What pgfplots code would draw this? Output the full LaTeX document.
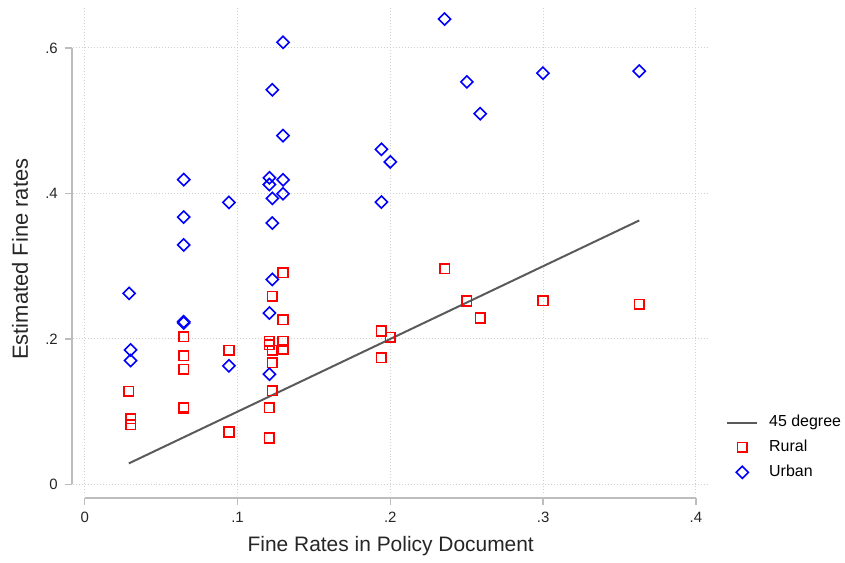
\documentclass[border=0pt]{standalone}
\usepackage{pgfplots}
\pgfplotsset{compat=1.18}
\usepackage{fontspec}
\setmainfont{Liberation Sans}
\definecolor{axgray}{HTML}{BDBDBD}
\definecolor{gridgray}{HTML}{D0D0D0}
\definecolor{linegray}{HTML}{5A5A5A}
\begin{document}
\begin{tikzpicture}
\begin{axis}[
  scale only axis,
  width=318.5pt, height=243.5pt,
  xmin=-0.0078, xmax=0.4077,
  ymin=-0.0123, ymax=0.655,
  axis x line*=bottom, axis y line*=left,
  axis x line shift=2.25pt, axis y line shift=0.5pt,
  x axis line style={draw=axgray, line width=0.8pt, -, shorten <=6pt, shorten >=5.9pt},
  y axis line style={draw=axgray, line width=0.8pt, -, shorten <=4.5pt, shorten >=20pt},
  xtick={0,0.1,0.2,0.3,0.4}, xticklabels={0,.1,.2,.3,.4},
  ytick={0,0.2,0.4,0.6}, yticklabels={0,.2,.4,.6},
  tick align=outside, major tick length=3.5pt,
  tick style={draw=axgray, line width=0.8pt},
  ticklabel style={font=\fontsize{7.5}{9}\selectfont, text=black!85},
  grid=major,
  major grid style={draw=gridgray, line width=0.5pt, dash pattern=on 0.5pt off 1pt},
  xlabel={Fine Rates in Policy Document},
  ylabel={Estimated Fine rates},
  xlabel style={font=\fontsize{10.5}{12}\selectfont, text=black!85, at={(0.5008,-0.1088)}, anchor=center},
  ylabel style={font=\fontsize{11}{13}\selectfont, text=black!85, at={(-0.0832,0.4825)}, anchor=center, rotate=0},
  clip=false,
  legend style={draw=none, fill=none, at={(1.0287,0.170)}, anchor=north west,
    font=\fontsize{8}{9.5}\selectfont, row sep=1.2pt, inner sep=0pt},
  legend image code/.code={%
    \draw[mark repeat=2, mark phase=2, #1] plot coordinates {(0pt,0pt) (7.5pt,0pt) (15pt,0pt)};
    \path[draw=none, fill=none] (0pt,0pt) -- (19pt,0pt);},
  legend cell align=left,
]
\path (rel axis cs:-0.1146,-0.1355) rectangle (rel axis cs:1.2119,1.0164);
\addplot[linegray, line width=1pt, no markers] coordinates {(0.0289,0.0289) (0.3629,0.3629)};
\addlegendentry{45 degree}
\addplot[only marks, mark=square, mark size=2.4pt, red, mark options={line width=0.8pt}] table {
x y
0.0289 0.1283
0.0300 0.0904
0.0300 0.0822
0.0648 0.2032
0.0648 0.1772
0.0648 0.1584
0.0648 0.1059
0.0648 0.1050
0.0944 0.1845
0.0944 0.0721
0.1209 0.1968
0.1209 0.1920
0.1209 0.1055
0.1209 0.0639
0.1228 0.2584
0.1228 0.1845
0.1228 0.1671
0.1228 0.1288
0.1298 0.2909
0.1298 0.2265
0.1298 0.1968
0.1298 0.1858
0.1942 0.2110
0.1942 0.1744
0.2000 0.2023
0.2355 0.2963
0.2501 0.2521
0.2588 0.2288
0.2999 0.2525
0.3629 0.2475
};
\addlegendentry{Rural}
\addplot[only marks, mark=square, mark size=2.15pt, blue, mark options={line width=0.8pt, rotate=45}] table {
x y
0.0291 0.2626
0.0300 0.1849
0.0300 0.1703
0.0648 0.4190
0.0648 0.3675
0.0648 0.3292
0.0648 0.2237
0.0648 0.2220
0.0944 0.3877
0.0944 0.1630
0.1209 0.4215
0.1209 0.4123
0.1209 0.2356
0.1209 0.1516
0.1228 0.5425
0.1228 0.3932
0.1228 0.3593
0.1228 0.2818
0.1298 0.6078
0.1298 0.4795
0.1298 0.4187
0.1298 0.3996
0.1942 0.4607
0.1942 0.3881
0.2000 0.4434
0.2355 0.6397
0.2501 0.5534
0.2588 0.5096
0.2999 0.5653
0.3629 0.5681
};
\addlegendentry{Urban}
\end{axis}
\end{tikzpicture}
\end{document}
